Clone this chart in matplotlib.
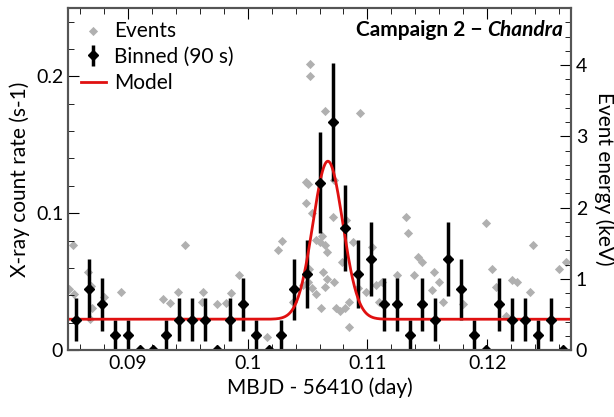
import matplotlib.pyplot as plt
import numpy as np
from matplotlib.ticker import MultipleLocator

plt.rcParams["font.family"] = ["Lato", "DejaVu Sans"]

# binned counts per 90 s bin
bin_start = 0.0857
bin_step = 0.00107
bin_counts = [2, 4, 3, 1, 1, 0, 0, 1, 2, 2, 2, 0, 2, 3, 1, 0, 1, 4, 5, 11,
              15, 8, 5, 6, 3, 3, 1, 3, 2, 6, 4, 1, 0, 3, 2, 2, 1, 2, 0]
bin_width_s = 90.0

# individual events (time in day, energy in keV)
event_t = [0.08545, 0.0851, 0.0855, 0.0867, 0.0869, 0.0870, 0.0880, 0.0894, 0.0868,
           0.0929, 0.0942, 0.0948, 0.0935, 0.0963, 0.0962, 0.0974, 0.0986, 0.0993,
           0.0982, 0.1016, 0.1025, 0.1029, 0.1038, 0.1050, 0.1049, 0.1054, 0.1051,
           0.1057, 0.1062, 0.1065, 0.1060, 0.1066, 0.1071, 0.1050, 0.1046, 0.1054,
           0.1057, 0.1063, 0.1066, 0.1072, 0.1065, 0.1061, 0.1074, 0.1077, 0.1081,
           0.1085, 0.1079, 0.1082, 0.1088, 0.1085, 0.1092, 0.1099, 0.1104, 0.1107,
           0.1112, 0.1125, 0.1132, 0.1134, 0.1142, 0.1146, 0.1139, 0.1156, 0.1160,
           0.1154, 0.1163, 0.1180, 0.1199, 0.1204, 0.1207, 0.1221, 0.1225, 0.1236,
           0.1238, 0.1260, 0.1266, 0.1216, 0.1110, 0.1052, 0.1052, 0.1065, 0.1094,
           0.1049, 0.1072]
event_e = [1.47, 0.86, 0.78, 1.10, 0.90, 0.59, 0.75, 0.82, 0.43,
           0.71, 0.82, 1.48, 0.66, 0.82, 0.68, 0.64, 0.80, 1.05,
           0.66, 0.18, 1.41, 1.53, 0.68, 2.33, 2.06, 1.92, 1.14,
           1.55, 1.60, 1.47, 1.51, 1.37, 1.87, 0.96, 0.91, 0.87,
           0.78, 1.10, 1.00, 0.96, 0.89, 0.59, 0.59, 0.55, 0.59,
           0.32, 1.23, 1.83, 1.51, 0.68, 0.87, 0.82, 1.44, 0.91,
           0.96, 1.05, 1.87, 1.64, 1.30, 1.23, 1.05, 1.10, 0.96,
           0.84, 0.68, 0.64, 1.78, 1.14, 0.89, 0.98, 0.96, 0.82,
           1.48, 1.14, 1.23, 0.48, 0.68, 4.01, 3.84, 3.36, 3.33,
           2.36, 2.38]

# gaussian flare model
model_base = 0.0225
model_amp = 0.1155
model_t0 = 0.1067
model_sigma = 0.00125

counts = np.array(bin_counts, dtype=float)
t_bin = bin_start + bin_step * np.arange(len(counts))
rate = counts / bin_width_s
rate_err = np.sqrt(counts) / bin_width_s
t_model = np.linspace(0.085, 0.127, 800)
model = model_base + model_amp * np.exp(-0.5 * ((t_model - model_t0) / model_sigma) ** 2)

fig = plt.figure(figsize=(6.14, 4.17), dpi=100)
ax = fig.add_axes([68 / 614, 1 - 350 / 417, 503 / 614, 342 / 417])
ax2 = ax.twinx()

ax2.scatter(event_t, event_e, marker="D", s=22, color="#b0b0b0", lw=0, label="Events")
ax.errorbar(t_bin, rate, yerr=rate_err, fmt="D", ms=5, color="black",
            elinewidth=2.5, capsize=0, label="Binned (90 s)")
ax.plot(t_model, model, color="#e01010", lw=2, label="Model")

ax.set_zorder(ax2.get_zorder() + 1)
ax.patch.set_visible(False)

ax.set_xlim(0.085, 0.127)
ax.set_ylim(0, 0.25)
ax2.set_ylim(0, 4.8)
ax.set_xticks([0.09, 0.10, 0.11, 0.12])
ax.set_xticklabels(["0.09", "0.1", "0.11", "0.12"])
ax.set_yticks([0, 0.1, 0.2])
ax.set_yticklabels(["0", "0.1", "0.2"])
ax.xaxis.set_minor_locator(MultipleLocator(0.002))
ax.yaxis.set_minor_locator(MultipleLocator(0.02))
ax2.set_yticks([0, 1, 2, 3, 4])
ax2.yaxis.set_minor_locator(MultipleLocator(0.2))
ax.tick_params(which="both", direction="in", top=True, labelsize=14, colors="black")
ax.tick_params(which="major", length=8)
ax.tick_params(which="minor", length=4)
ax2.tick_params(which="both", direction="in", labelsize=14)
ax2.tick_params(which="major", length=8)
ax2.tick_params(which="minor", length=4)
for a in (ax, ax2):
    for s in a.spines.values():
        s.set_color("#555555")
        s.set_linewidth(1.5)

ax.set_xlabel("MBJD - 56410 (day)", fontsize=15)
ax.set_ylabel("X-ray count rate (s-1)", fontsize=15)
ax2.set_ylabel("Event energy (keV)", fontsize=15, rotation=270, labelpad=20)

ax.annotate("Chandra", xy=(0.985, 0.965), xycoords="axes fraction", ha="right", va="top",
            fontsize=15, fontweight="bold", style="italic")
ax.annotate("Campaign 2 \u2212 ", xy=(0.985 - 0.15, 0.965), xycoords="axes fraction",
            ha="right", va="top", fontsize=15, fontweight="bold")

h1, l1 = ax2.get_legend_handles_labels()
h2, l2 = ax.get_legend_handles_labels()
handles = [h1[0], h2[1], h2[0]]
labels = [l1[0], l2[1], l2[0]]
ax.legend(handles, labels, loc="upper left", frameon=False, fontsize=15,
          handlelength=1.2, handletextpad=0.4, borderaxespad=0.2, labelspacing=0.3)

fig.savefig("out.png", dpi=100)
